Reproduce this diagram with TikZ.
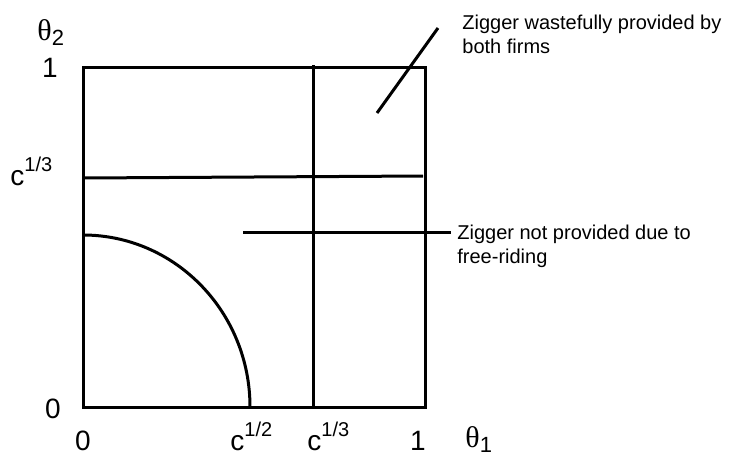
\documentclass[tikz,border=0pt]{standalone}
\usepackage{fontspec}
\setmainfont{Liberation Sans}
\newfontfamily\gorog{Liberation Serif}
\usetikzlibrary{positioning}
\tikzset{
  vonal/.style={line width=1.5pt},
  cimke/.style={inner sep=0pt,font=\fontsize{14}{16}\selectfont},
  megj/.style={inner sep=0pt,align=left,anchor=north west,font=\fontsize{10}{11.8}\selectfont},
}
\newcommand{\kitevo}[1]{\raisebox{0.5em}{\fontsize{10}{10}\selectfont #1}}
\newcommand{\teta}[1]{{\gorog\fontsize{15}{16}\selectfont\char"03B8}\raisebox{-0.2em}{\fontsize{11}{11}\selectfont #1}}

\begin{document}
\begin{tikzpicture}[x=0.5pt,y=-0.5pt]
  \useasboundingbox (0,0) rectangle (749,456);
  % tartomany
  \draw[vonal] (83,67) rectangle (425,407);
  \draw[vonal] (313,65) -- (313,409);
  \coordinate (h0) at (83,178); \coordinate (h1) at (423,176);
  \draw[vonal] (h0) -- (h1);
  \draw[vonal] (83,235) arc[start angle=-90,end angle=0,x radius=167,y radius=172];
  % tengelyfeliratok
  \node[cimke,anchor=base west] (t2) at (37,40) {\teta{2}};
  \node[cimke,anchor=base] (y1) at (50,77) {1};
  \node[cimke,anchor=base west] (yc) at (10,185) {c\kitevo{1/3}};
  \node[cimke,anchor=base] (y0) at (53,418) {0};
  \node[cimke,anchor=base] (x0) at (83,450) {0};
  \node[cimke,anchor=base west] (xc2) at (230,450) {c\kitevo{1/2}};
  \node[cimke,anchor=base west] (xc3) at (307,450) {c\kitevo{1/3}};
  \node[cimke,anchor=base] (x1) at (418,450) {1};
  \node[cimke,anchor=base west] (t1) at (465,447) {\teta{1}};
  % megjegyzesek
  \node[megj] (pazar) at (462,15) {Zigger wastefully provided by\\both firms};
  \node[megj] (potya) at (457,225) {Zigger not provided due to\\free-riding};
  \coordinate (p1) at (377,113); \coordinate (p2) at (438,28);
  \draw[vonal] (p1) -- (p2);
  \coordinate (q1) at (243,232);
  \draw[vonal] (q1) -- ([xshift=-3pt]potya.west |- q1);
\end{tikzpicture}
\end{document}
